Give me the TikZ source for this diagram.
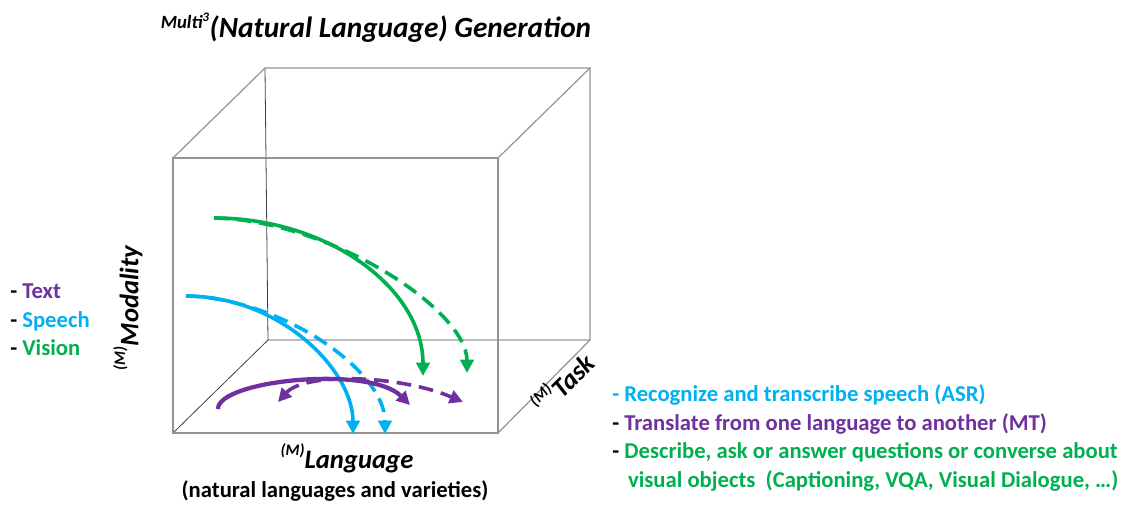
\documentclass[tikz,border=0pt]{standalone}
\usepackage{fontspec}
\setmainfont{Carlito}
\usetikzlibrary{arrows.meta}
\definecolor{visiongreen}{RGB}{0,176,80}
\definecolor{speechblue}{RGB}{0,176,240}
\definecolor{textpurple}{RGB}{112,48,160}

\begin{document}
\begin{tikzpicture}[x=0.75pt, y=-0.75pt]
    % Define styles
    \tikzset{
        >={Triangle[length=10pt, width=10pt]},
        edge/.style={
            gray!85,
            line width=0.9pt
        },
        hidden/.style={
            black!75,
            line width=0.6pt
        },
        flow/.style={
            line width=2.7pt,
            ->
        },
        flowdash/.style={
            flow,
            dash pattern=on 11pt off 6pt
        },
        axislabel/.style={
            font=\fontsize{20}{24}\selectfont\bfseries\itshape,
            inner sep=0pt
        },
        listtext/.style={
            font=\fontsize{17}{21.5}\selectfont\bfseries,
            align=left,
            inner sep=0pt
        }
    }
    \newcommand{\smallsup}[1]{\raisebox{0.5em}{\fontsize{12}{12}\selectfont #1}}
    \useasboundingbox (0,0) rectangle (1133,504);

    % Cube corners (front and back face)
    \coordinate (fa) at (173,158);
    \coordinate (fb) at (498,158);
    \coordinate (fc) at (498,433);
    \coordinate (fd) at (173,433);
    \coordinate (ba) at (265,68);
    \coordinate (bb) at (590,68);
    \coordinate (bc) at (590,340);
    \coordinate (bd) at (268,340);

    % Hidden edges
    \draw[hidden] (ba) -- (bd) -- (bc);
    \draw[hidden] (fd) -- (bd);

    % Visible edges
    \draw[edge] (fa) rectangle (fc);
    \draw[edge] (fa) -- (ba) -- (bb) -- (fb);
    \draw[edge] (bb) -- (bc) -- (fc);

    % Vision curves
    \coordinate (vstart) at (214,218);
    \coordinate (vend) at (423,376);
    \coordinate (vendd) at (467,373);
    \draw[flow, visiongreen] (vstart) .. controls (329,218) and (423,289) .. (vend);
    \draw[flowdash, visiongreen] (vstart) .. controls (330,220) and (467,310) .. (vendd);

    % Speech curves
    \coordinate (sstart) at (186,296);
    \coordinate (send) at (353,434);
    \coordinate (sendd) at (385,434);
    \draw[flow, speechblue] (sstart) .. controls (280,296) and (353,370) .. (send);
    \draw[flowdash, speechblue] (sstart) .. controls (280,298) and (385,370) .. (sendd);

    % Text curves
    \coordinate (tstart) at (218,409);
    \coordinate (tend) at (410,405);
    \coordinate (tdstart) at (278,402);
    \coordinate (tdend) at (463,402);
    \draw[flow, textpurple, line width=3.2pt] (tstart) .. controls (218,380) and (370,365) .. (tend);
    \draw[flowdash, textpurple, <->] (tdstart) .. controls (305,372) and (400,375) .. (tdend);

    % Title
    \node[font=\fontsize{22}{26}\selectfont\bfseries\itshape, inner sep=0pt] (title) at (376,28)
        {\raisebox{0.3em}{\fontsize{14}{14}\selectfont Multi\textsuperscript{3}}(Natural Language) Generation};

    % Axis labels
    \node[axislabel, rotate=90] (modality) at (128,308) {\smallsup{(M)}Modality};
    \node[axislabel] (language) at (347,458) {\smallsup{(M)}Language};
    \node[axislabel, rotate=45] (task) at (562,382) {\smallsup{(M)}Task};
    \node[listtext] (varieties) at (335,491) {(natural languages and varieties)};

    % Modality list
    \node[listtext, anchor=west] (modlist) at (10,320)
        {- \textcolor{textpurple}{Text}\\
         - \textcolor{speechblue}{Speech}\\
         - \textcolor{visiongreen}{Vision}};

    % Task list
    \node[listtext, anchor=west] (tasklist) at (612,438)
        {\textcolor{speechblue}{- Recognize and transcribe speech (ASR)}\\
         - \textcolor{textpurple}{Translate from one language to another (MT)}\\
         - \textcolor{visiongreen}{Describe, ask or answer questions or converse about}\\
         \hspace*{0.7em}\textcolor{visiongreen}{visual objects\ \ (Captioning, VQA, Visual Dialogue, \dots)}};

\end{tikzpicture}
\end{document}
